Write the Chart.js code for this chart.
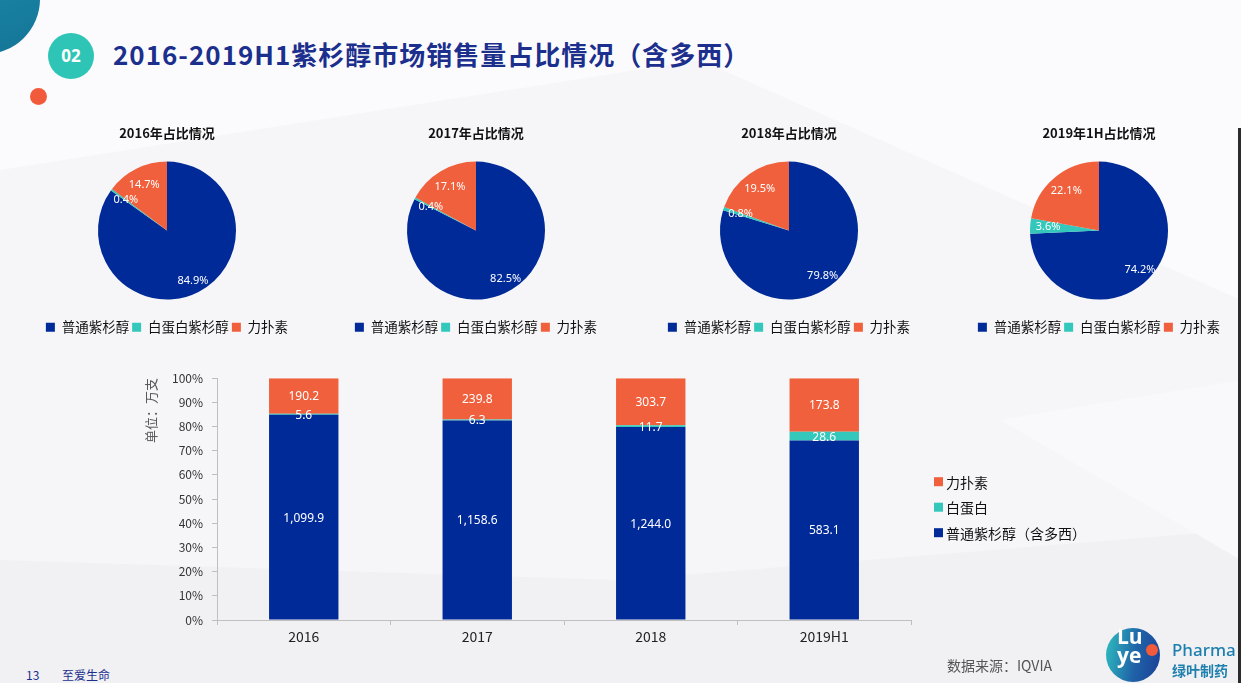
<!DOCTYPE html>
<html>
<head>
<meta charset="utf-8">
<script src="https://cdn.jsdelivr.net/npm/chart.js@4.4.1/dist/chart.umd.min.js"></script>
<style>
  html, body { margin: 0; padding: 0; }
  body {
    width: 1241px; height: 683px; position: relative; overflow: hidden;
    background: #f6f6f9;
    font-family: "Noto Sans CJK SC", "Noto Sans", sans-serif;
  }
  .poly { position: absolute; left: 0; top: 0; width: 1241px; height: 683px; }
  .abs { position: absolute; white-space: nowrap; }
  canvas { position: absolute; }
</style>
</head>
<body>
<!-- faint background shapes -->
<div class="poly" style="background:#fbfbfd; clip-path: polygon(0 0, 1241px 0, 1241px 300px, 700px 60px, 0 170px);"></div>
<div class="poly" style="background:#f1f1f4; clip-path: polygon(0 560px, 620px 580px, 1241px 530px, 1241px 683px, 0 683px);"></div>
<div class="poly" style="background:#f9f9fb; clip-path: polygon(1000px 420px, 1241px 380px, 1241px 560px);"></div>

<div class="abs" style="left:-70px; top:-56px; width:110px; height:110px; border-radius:50%; background:linear-gradient(160deg,#1d8db0,#147596);"></div>
<div class="abs" style="left:48px; top:33px; width:46px; height:46px; border-radius:50%; background:#2ec5b7; color:#fff; font:bold 17px 'Open Sans', sans-serif; line-height:46px; text-align:center;">02</div>
<div class="abs" style="left:30px; top:88px; width:17px; height:17px; border-radius:50%; background:#f15b3b;"></div>
<div class="abs" style="left:113px; top:36px; font-weight:bold; font-size:26px; line-height:36px; letter-spacing:1px; color:#1c2f8d;">2016-2019H1紫杉醇市场销售量占比情况（含多西）</div>

<canvas id="pie0" width="280" height="228" style="left:27px; top:116px;"></canvas>
<canvas id="pie1" width="280" height="228" style="left:336px; top:116px;"></canvas>
<canvas id="pie2" width="280" height="228" style="left:649px; top:116px;"></canvas>
<canvas id="pie3" width="280" height="228" style="left:959px; top:116px;"></canvas>

<canvas id="barChart" width="980" height="300" style="left:130px; top:362px;"></canvas>
<div class="abs" style="left:118px; top:401px; transform:rotate(-90deg); font-size:13px; color:#595959;">单位：万支</div>

<div class="abs" style="right:0; top:128px; width:3px; height:560px; background:#2b2b2b;"></div>

<div class="abs" style="left:947px; top:655px; font-size:14px; color:#555;">数据来源：IQVIA</div>
<div class="abs" style="left:26px; top:666px; font-size:12px; color:#1c2f8d;">13</div>
<div class="abs" style="left:62px; top:666px; font-size:12px; color:#1c2f8d;">至爱生命</div>

<div class="abs" style="left:1106px; top:628px; width:54px; height:54px; border-radius:50%; background:linear-gradient(100deg,#2fc0c0 0%,#1f63a8 55%,#1b3f96 100%);"></div>
<div class="abs" style="left:1117px; top:626px; font:bold 21px 'Open Sans', sans-serif; line-height:21px; color:#fff;">Lu</div>
<div class="abs" style="left:1117px; top:645px; font:bold 21px 'Open Sans', sans-serif; line-height:21px; color:#fff;">ye</div>
<div class="abs" style="left:1146px; top:644px; width:12px; height:12px; border-radius:50%; background:#f15b3b;"></div>
<div class="abs" style="left:1172px; top:639px; font:500 17px 'Noto Sans', sans-serif; line-height:22px; color:#1d7fae;">Pharma</div>
<div class="abs" style="left:1172px; top:661px; font-weight:bold; font-size:14px; line-height:18px; color:#1d7fae;">绿叶制药</div>

<script>
// 数据（万支）
const years = ['2016', '2017', '2018', '2019H1'];
const pieTitles = ['2016年占比情况', '2017年占比情况', '2018年占比情况', '2019年1H占比情况'];
const pieLabels = ['普通紫杉醇', '白蛋白紫杉醇', '力扑素'];
const barLabels = ['普通紫杉醇（含多西）', '白蛋白', '力扑素'];
const putong = [1099.9, 1158.6, 1244.0, 583.1];
const baidanbai = [5.6, 6.3, 11.7, 28.6];
const lipusu = [190.2, 239.8, 303.7, 173.8];

const BLUE = '#002a98';
const TEAL = '#33c8bb';
const ORANGE = '#f0603c';
const colors = [BLUE, TEAL, ORANGE];

Chart.defaults.font.family = '"Noto Sans CJK SC", "Noto Sans", sans-serif';
Chart.defaults.animation = false;

// 饼图上的百分比标签
const pieLabelPlugin = {
    id: 'pieLabels',
    afterDatasetsDraw(chart) {
        const ctx = chart.ctx;
        const data = chart.data.datasets[0].data;
        const total = data.reduce((a, b) => a + b, 0);
        chart.getDatasetMeta(0).data.forEach((arc, i) => {
            const p = arc.getProps(['x', 'y', 'startAngle', 'endAngle', 'outerRadius']);
            const mid = (p.startAngle + p.endAngle) / 2;
            const r = p.outerRadius * (i === 0 ? 0.82 : 0.74);
            ctx.save();
            ctx.fillStyle = '#fff';
            ctx.font = '11px "Noto Sans", sans-serif';
            ctx.textAlign = 'center';
            ctx.textBaseline = 'middle';
            ctx.fillText((data[i] / total * 100).toFixed(1) + '%', p.x + Math.cos(mid) * r, p.y + Math.sin(mid) * r);
            ctx.restore();
        });
    }
};

for (let k = 0; k < years.length; k++) {
    new Chart(document.getElementById('pie' + k).getContext('2d'), {
        type: 'pie',
        data: {
            labels: pieLabels,
            datasets: [{
                data: [putong[k], baidanbai[k], lipusu[k]],
                backgroundColor: colors,
                borderWidth: 0
            }]
        },
        options: {
            responsive: false,
            radius: 69,
            plugins: {
                title: {
                    display: true,
                    text: pieTitles[k],
                    color: '#111',
                    font: { size: 13, weight: 'bold' },
                    padding: { top: 9, bottom: 3 }
                },
                legend: {
                    position: 'bottom',
                    labels: {
                        boxWidth: 9,
                        boxHeight: 9,
                        padding: 3,
                        color: '#111',
                        font: { size: 13.5 }
                    }
                },
                tooltip: { enabled: false }
            }
        },
        plugins: [pieLabelPlugin]
    });
}

// 柱状图：数值标签 + 右侧图例
const barLabelPlugin = {
    id: 'barLabels',
    afterDatasetsDraw(chart) {
        const ctx = chart.ctx;
        chart.data.datasets.forEach((ds, di) => {
            chart.getDatasetMeta(di).data.forEach((bar, i) => {
                const p = bar.getProps(['x', 'y', 'base']);
                ctx.save();
                ctx.fillStyle = '#fff';
                ctx.font = '12px "Noto Sans", sans-serif';
                ctx.textAlign = 'center';
                ctx.textBaseline = 'middle';
                const v = ds.raw[i].toLocaleString('en-US', { minimumFractionDigits: 1, maximumFractionDigits: 1 });
                ctx.fillText(v, p.x, (p.y + p.base) / 2 + 1);
                ctx.restore();
            });
        });
        // 图例（倒序）
        const a = chart.chartArea;
        const items = chart.data.datasets.slice().reverse();
        items.forEach((ds, j) => {
            const y = a.top + 104 + j * 25.5;
            ctx.save();
            ctx.fillStyle = ds.backgroundColor;
            ctx.fillRect(a.right + 23, y - 5, 9, 9);
            ctx.fillStyle = '#111';
            ctx.font = '14px "Noto Sans CJK SC", sans-serif';
            ctx.textAlign = 'left';
            ctx.textBaseline = 'middle';
            ctx.fillText(ds.label, a.right + 35, y);
            ctx.restore();
        });
    }
};

const rawSeries = [putong, baidanbai, lipusu];
const totals = years.map((_, i) => putong[i] + baidanbai[i] + lipusu[i]);

new Chart(document.getElementById('barChart').getContext('2d'), {
    type: 'bar',
    data: {
        labels: years,
        datasets: rawSeries.map((s, di) => ({
            label: barLabels[di],
            raw: s,
            data: s.map((v, i) => v / totals[i] * 100),
            backgroundColor: colors[di],
            borderWidth: 0,
            categoryPercentage: 1,
            barPercentage: 0.4
        }))
    },
    options: {
        responsive: false,
        layout: { padding: { top: 12, right: 199, left: 0, bottom: 0 } },
        plugins: {
            legend: { display: false },
            tooltip: { enabled: false }
        },
        scales: {
            x: {
                stacked: true,
                afterFit(scale) { scale.height = 42; },
                grid: { drawOnChartArea: false, drawTicks: true, tickLength: 5, color: '#bfbfbf' },
                border: { color: '#bfbfbf' },
                ticks: { color: '#222', font: { size: 14 }, padding: 3 }
            },
            y: {
                stacked: true,
                min: 0,
                max: 100,
                afterFit(scale) { scale.width = 87; },
                grid: { drawOnChartArea: false, drawTicks: true, tickLength: 5, color: '#bfbfbf' },
                border: { color: '#bfbfbf' },
                ticks: {
                    stepSize: 10,
                    color: '#333',
                    font: { size: 12 },
                    padding: 9,
                    callback: v => v + '%'
                }
            }
        }
    },
    plugins: [barLabelPlugin]
});
</script>
</body>
</html>
